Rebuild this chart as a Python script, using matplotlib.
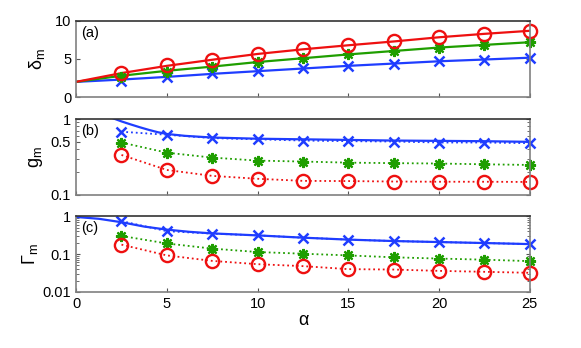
import matplotlib
matplotlib.use('Agg')
import matplotlib.pyplot as plt
from matplotlib.ticker import NullFormatter

plt.rcParams['font.family'] = ['Liberation Sans', 'DejaVu Sans']
plt.rcParams['mathtext.fontset'] = 'custom'
plt.rcParams['mathtext.rm'] = 'Liberation Sans'

alpha = [2.5, 5, 7.5, 10, 12.5, 15, 17.5, 20, 22.5, 25]
alpha_line = [0, 2.5, 5, 7.5, 10, 12.5, 15, 17.5, 20, 22.5, 25]

# (a) delta_m
delta_blue = [2.1, 2.6, 3.1, 3.4, 3.77, 4.1, 4.4, 4.7, 4.9, 5.17]
delta_green = [2.6, 3.3, 3.95, 4.6, 5.1, 5.6, 6.05, 6.5, 6.85, 7.2]
delta_red = [3.2, 4.2, 4.9, 5.66, 6.27, 6.8, 7.3, 7.85, 8.3, 8.7]
delta_blue_line = [2.0, 2.3, 2.65, 3.05, 3.4, 3.75, 4.1, 4.4, 4.7, 4.93, 5.17]
delta_green_line = [2.0, 2.8, 3.45, 4.0, 4.6, 5.1, 5.6, 6.05, 6.5, 6.85, 7.2]
delta_red_line = [2.0, 3.15, 4.1, 4.9, 5.66, 6.27, 6.8, 7.3, 7.85, 8.3, 8.7]

# (b) g_m
g_blue = [0.68, 0.62, 0.56, 0.54, 0.52, 0.51, 0.505, 0.49, 0.49, 0.48]
g_green = [0.49, 0.36, 0.31, 0.283, 0.275, 0.266, 0.262, 0.259, 0.253, 0.248]
g_red = [0.336, 0.213, 0.178, 0.163, 0.153, 0.152, 0.15, 0.149, 0.149, 0.148]
g_alpha_line = [0, 1, 1.5, 2, 2.5, 3, 3.5, 4, 4.5, 5, 6, 7.5, 10, 12.5, 15,
                17.5, 20, 22.5, 25]
g_blue_line = [1.6, 1.25, 1.13, 1.03, 0.93, 0.85, 0.78, 0.72, 0.67, 0.635,
               0.6, 0.57, 0.55, 0.54, 0.53, 0.52, 0.515, 0.51, 0.50]

# (c) Gamma_m
G_blue = [0.74, 0.40, 0.345, 0.31, 0.27, 0.24, 0.22, 0.207, 0.195, 0.183]
G_green = [0.30, 0.19, 0.139, 0.113, 0.102, 0.092, 0.082, 0.076, 0.071, 0.065]
G_red = [0.177, 0.092, 0.066, 0.054, 0.048, 0.040, 0.039, 0.036, 0.034, 0.032]
G_alpha_line = [0, 1.25, 2.5, 3.75, 5, 6.25, 7.5, 10, 12.5, 15, 17.5, 20,
                22.5, 25]
G_blue_line = [0.95, 0.85, 0.69, 0.53, 0.44, 0.385, 0.35, 0.31, 0.27, 0.24,
               0.22, 0.207, 0.195, 0.183]

blue = '#1f3dff'
green = '#1f9e00'
red = '#ee1010'
asterisk = (8, 2, 0)

fig = plt.figure(figsize=(5.81, 3.48), dpi=100)
left, width = 0.131, 0.781
ax_a = fig.add_axes([left, 0.721, width, 0.219])
ax_b = fig.add_axes([left, 0.440, width, 0.218])
ax_c = fig.add_axes([left, 0.161, width, 0.218])

mk_x = dict(marker='x', markersize=7, markeredgewidth=1.8, color=blue, clip_on=False)
mk_s = dict(marker=asterisk, markersize=8, markeredgewidth=1.6, color=green, clip_on=False)
mk_o = dict(marker='o', markersize=9.5, markeredgewidth=1.7, markerfacecolor='none',
            color=red, clip_on=False)

# panel (a)
ax_a.plot(alpha_line, delta_blue_line, '-', color=blue, lw=1.6)
ax_a.plot(alpha_line, delta_green_line, '-', color=green, lw=1.6)
ax_a.plot(alpha_line, delta_red_line, '-', color=red, lw=1.6)
ax_a.plot(alpha, delta_blue, linestyle='none', **mk_x)
ax_a.plot(alpha, delta_green, linestyle='none', **mk_s)
ax_a.plot(alpha, delta_red, linestyle='none', **mk_o)
ax_a.set_ylim(0, 10)
ax_a.set_yticks([0, 5, 10])
ax_a.set_ylabel(r'$\mathregular{δ_m}$', fontsize=13, labelpad=6)

# panel (b)
ax_b.plot(g_alpha_line, g_blue_line, '-', color=blue, lw=1.6)
ax_b.plot(alpha, g_blue, linestyle=':', lw=1.3, **mk_x)
ax_b.plot(alpha, g_green, linestyle=':', lw=1.3, **mk_s)
ax_b.plot(alpha, g_red, linestyle=':', lw=1.3, **mk_o)
ax_b.set_yscale('log')
ax_b.set_ylim(0.1, 1)
ax_b.set_yticks([0.1, 0.5, 1])
ax_b.set_yticklabels(['0.1', '0.5', '1'])
ax_b.set_ylabel(r'$\mathregular{g_m}$', fontsize=13, labelpad=4)

# panel (c)
ax_c.plot(G_alpha_line, G_blue_line, '-', color=blue, lw=1.6)
ax_c.plot(alpha, G_blue, linestyle=':', lw=1.3, **mk_x)
ax_c.plot(alpha, G_green, linestyle=':', lw=1.3, **mk_s)
ax_c.plot(alpha, G_red, linestyle=':', lw=1.3, **mk_o)
ax_c.set_yscale('log')
ax_c.set_ylim(0.01, 1)
ax_c.set_yticks([0.01, 0.1, 1])
ax_c.set_yticklabels(['0.01', '0.1', '1'])
ax_c.set_ylabel(r'$\mathregular{Γ_m}$', fontsize=13, labelpad=2)
ax_c.set_xlabel('α', fontsize=13, labelpad=1)

for ax, lab in zip([ax_a, ax_b, ax_c], ['(a)', '(b)', '(c)']):
    ax.set_xlim(0, 25)
    ax.set_xticks([0, 5, 10, 15, 20, 25])
    ax.tick_params(which='both', direction='in', labelsize=10.5, length=3,
                   color='#555555', top=False, right=True)
    ax.tick_params(which='minor', length=2)
    for s in ax.spines.values():
        s.set_color('#808080')
        s.set_linewidth(1.2)
    ax.spines['top'].set_color('#333333')
    ax.text(0.012, 0.93, lab, transform=ax.transAxes, fontsize=10.5,
            va='top', ha='left')

ax_a.tick_params(labelbottom=False)
ax_b.tick_params(labelbottom=False)
ax_b.yaxis.set_minor_formatter(NullFormatter())
ax_c.yaxis.set_minor_formatter(NullFormatter())

fig.savefig('out.png', dpi=100)
